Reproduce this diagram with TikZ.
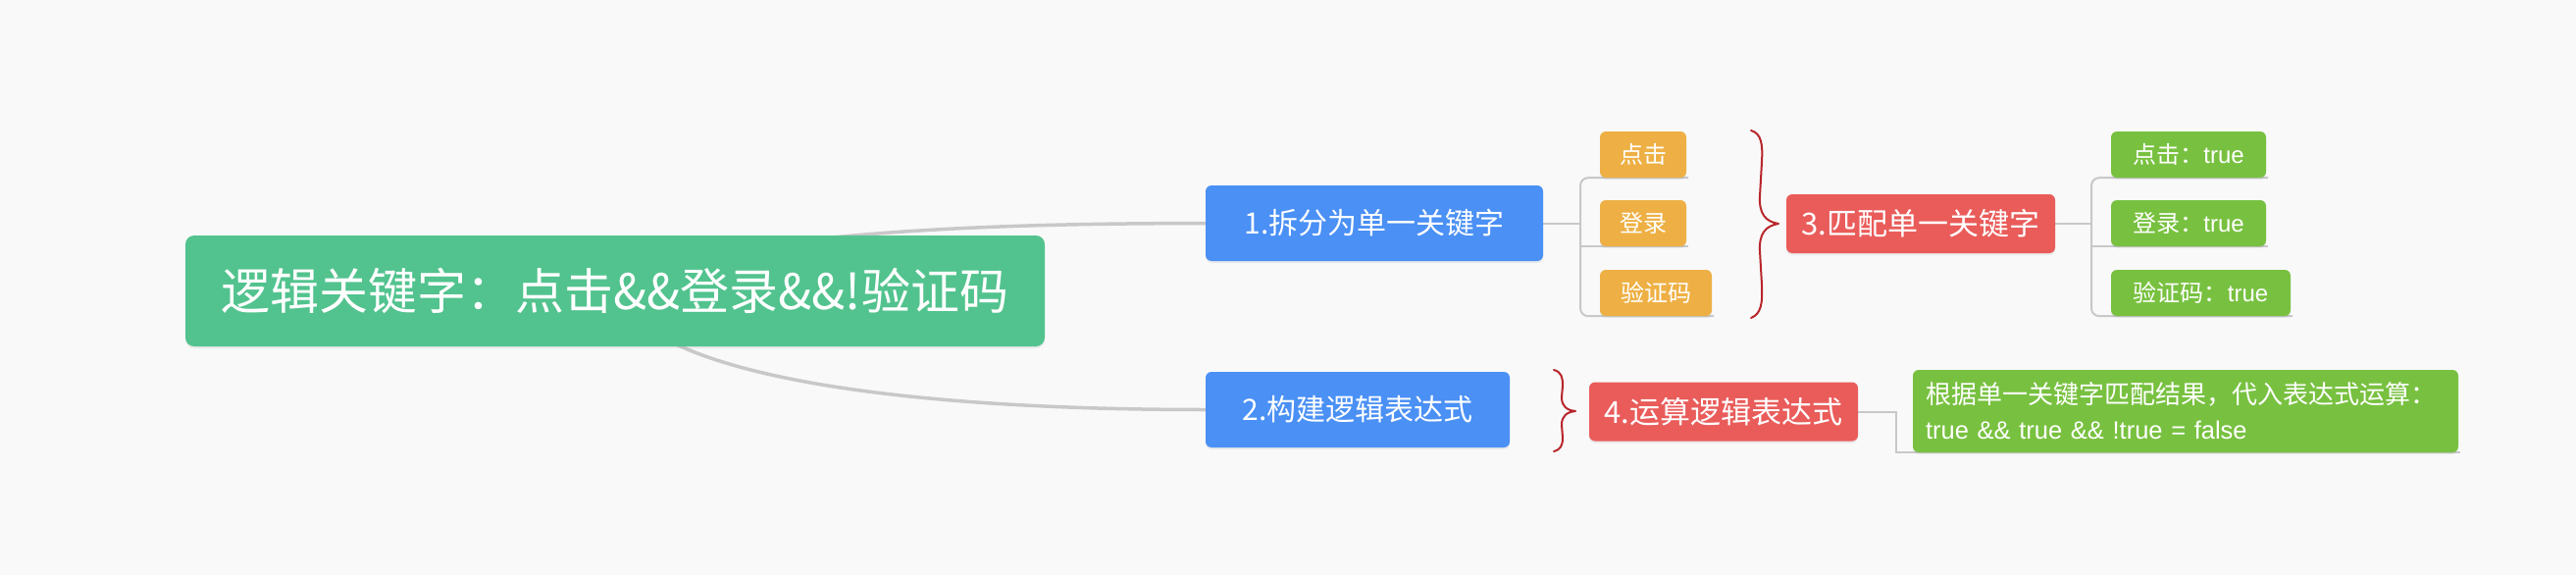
\documentclass[tikz,border=0pt]{standalone}
\usepackage{fontspec}
\setmainfont{Noto Sans CJK SC}
\newfontfamily\lat{Liberation Sans}
\usetikzlibrary{shadows,calc,backgrounds}
\definecolor{bgc}{HTML}{F9F9F9}
\definecolor{rootc}{HTML}{52C38E}
\definecolor{bluec}{HTML}{4A90F5}
\definecolor{orangec}{HTML}{EEB044}
\definecolor{redc}{HTML}{E95C5A}
\definecolor{greenc}{HTML}{78C140}
\definecolor{linec}{HTML}{C8C8C8}
\definecolor{bracec}{HTML}{B8262B}
\begin{document}
\begin{tikzpicture}[x=1pt,y=-1pt,
  box/.style={rectangle, rounded corners=6pt, text=white, inner sep=0pt, align=center,
    drop shadow={opacity=0.12, shadow xshift=0pt, shadow yshift=-2pt}},
  rootbox/.style={box, fill=rootc, rounded corners=9pt, minimum width=876pt, minimum height=113pt, font=\fontsize{50}{60}\selectfont},
  bluebox/.style={box, fill=bluec, minimum height=77pt, font=\fontsize{30}{36}\selectfont},
  orangebox/.style={box, fill=orangec, minimum height=47pt, font=\fontsize{24}{28}\selectfont},
  redbox/.style={box, fill=redc, minimum height=60pt, font=\fontsize{31}{36}\selectfont},
  greenbox/.style={box, fill=greenc, minimum height=47pt, font=\fontsize{24}{28}\selectfont},
  mainline/.style={draw=linec, line width=3.5pt},
  thinline/.style={draw=linec, line width=2pt},
  bracestyle/.style={draw=bracec, line width=2pt, line cap=round, line join=round}]

% nodes
\node[rootbox] (root) at (627,296.5) {逻辑关键字：点击\&\&登录\&\&!验证码};
\node[bluebox, minimum width=344pt] (n1) at (1401,227.5) {1.拆分为单一关键字};
\node[bluebox, minimum width=310pt] (n2) at (1384,417.5) {2.构建逻辑表达式};
\node[orangebox, minimum width=88pt] (o1) at (1675,157.5) {点击};
\node[orangebox, minimum width=88pt] (o2) at (1675,227.5) {登录};
\node[orangebox, minimum width=114pt] (o3) at (1688,298.5) {验证码};
\node[redbox, minimum width=274pt] (n3) at (1958,228) {3.匹配单一关键字};
\node[greenbox, minimum width=158pt] (g1) at (2231,157.5) {点击：{\lat true}};
\node[greenbox, minimum width=158pt] (g2) at (2231,227.5) {登录：{\lat true}};
\node[greenbox, minimum width=183pt] (g3) at (2243.5,298.5) {验证码：{\lat true}};
\node[redbox, minimum width=274pt] (n4) at (1757,419.5) {4.运算逻辑表达式};
\node[box, fill=greenc, minimum height=84pt, text width=530pt, inner xsep=13pt, align=left,
  font=\fontsize{26}{36}\selectfont] (res) at (2228,419)
  {根据单一关键字匹配结果，代入表达式运算：\\{\lat\fontsize{25.5}{36}\selectfont true \&\& true \&\& !true = false}};

% junction coordinates
\coordinate (j1) at (1611,227.5);
\coordinate (j3) at (2132,228);
\coordinate (j4) at (1933,419.5);

\begin{scope}[on background layer]
\fill[bgc] (0,0) rectangle (2626,586);
% root curves
\path[mainline] (root.center) .. controls (720,228) and (1100,228) .. (n1.west);
\path[mainline] (root.center) .. controls (660,380) and (900,417.5) .. (n2.west);
% node 1 children
\path[thinline] (n1.east) -- (j1);
\path[thinline, rounded corners=8pt] ($(o1.south east)+(2,0)$) -- (j1 |- o1.south) -- (j1 |- o3.south) -- ($(o3.south east)+(2,0)$);
\path[thinline] (j1 |- o2.south) -- ($(o2.south east)+(2,0)$);
% node 3 children
\path[thinline] (n3.east) -- (j3);
\path[thinline, rounded corners=8pt] ($(g1.south east)+(2,0)$) -- (j3 |- g1.south) -- (j3 |- g3.south) -- ($(g3.south east)+(2,0)$);
\path[thinline] (j3 |- g2.south) -- ($(g2.south east)+(2,0)$);
% node 4 to result
\path[thinline] (n4.east) -- (j4) -- (j4 |- res.south) -- ($(res.south east)+(2,0)$);
\end{scope}
\useasboundingbox (0,0) rectangle (2626,586);

% braces
\coordinate (b1top) at (1785,133);
\coordinate (b1tip) at (1813,228);
\coordinate (b1bot) at (1785,324);
\path[bracestyle] (b1top) .. controls (1796,136) and (1797,148) .. (1796,165)
  -- (1794,200) .. controls (1793,218) and (1800,226) .. (b1tip)
  .. controls (1800,230) and (1793,238) .. (1794,256)
  -- (1796,290) .. controls (1797,310) and (1795,320) .. (b1bot);
\coordinate (b2top) at (1584,377);
\coordinate (b2tip) at (1606,419);
\coordinate (b2bot) at (1584,460);
\path[bracestyle] (b2top) .. controls (1592,379) and (1593,385) .. (1593,393)
  -- (1592,405) .. controls (1592,414) and (1597,418) .. (b2tip)
  .. controls (1597,420) and (1592,424) .. (1592,433)
  -- (1593,446) .. controls (1593,454) and (1591,458) .. (b2bot);
\end{tikzpicture}
\end{document}
